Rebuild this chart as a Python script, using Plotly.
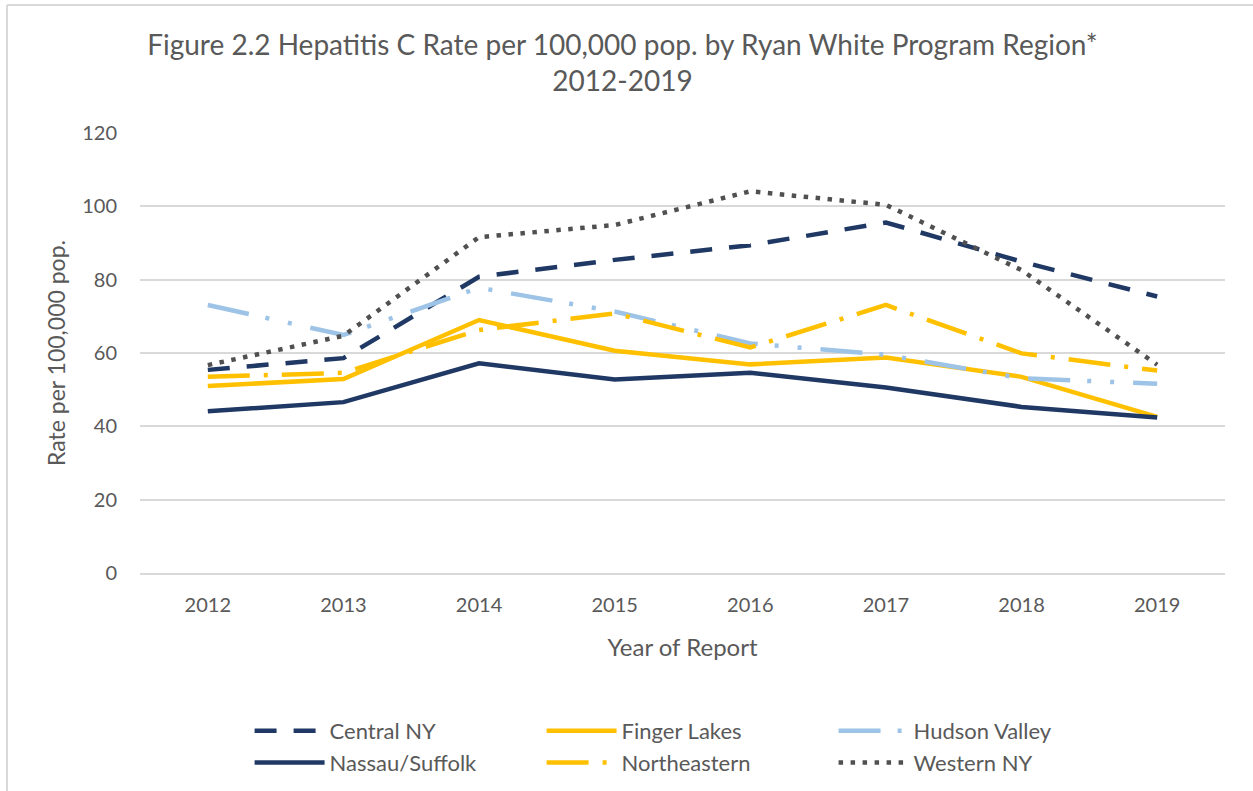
import plotly.graph_objects as go

years = ["2012", "2013", "2014", "2015", "2016", "2017", "2018", "2019"]

central_ny = [55.4, 58.6, 80.8, 85.4, 89.4, 95.6, 84.9, 75.4]
finger_lakes = [51.0, 52.9, 69.0, 60.6, 56.9, 58.8, 53.5, 42.6]
hudson_valley = [73.1, 64.9, 77.8, 71.3, 62.6, 59.5, 53.1, 51.6]
nassau_suffolk = [44.1, 46.6, 57.2, 52.8, 54.6, 50.6, 45.3, 42.4]
northeastern = [53.5, 54.6, 66.3, 70.8, 61.5, 73.1, 59.9, 55.2]
western_ny = [56.7, 64.7, 91.6, 94.9, 104.1, 100.4, 82.6, 56.8]

series_names = ["Central NY", "Finger Lakes", "Hudson Valley",
                "Nassau/Suffolk", "Northeastern", "Western NY"]
series_values = [central_ny, finger_lakes, hudson_valley,
                 nassau_suffolk, northeastern, western_ny]

NAVY = "#1F3864"
YELLOW = "#FFC000"
LIGHTBLUE = "#9DC3E6"
GRAY = "#505050"

styles = [
    dict(color=NAVY, dash="22px,17px", width=4.5),
    dict(color=YELLOW, dash="solid", width=4.5),
    dict(color=LIGHTBLUE, dash="42px,17px,4px,19px,4px,19px", width=4.5),
    dict(color=NAVY, dash="solid", width=4.5),
    dict(color=YELLOW, dash="42px,14px,4px,14px", width=4.5),
    dict(color=GRAY, dash="4.5px,7.5px", width=4.5),
]

fig = go.Figure()
for name, vals, st in zip(series_names, series_values, styles):
    fig.add_trace(go.Scatter(x=years, y=vals, name=name, mode="lines",
                             line=st))

FONT = "Lato"
TXT = "#595959"

fig.update_layout(
    width=1253, height=791,
    paper_bgcolor="white", plot_bgcolor="white",
    margin=dict(l=140, r=28, t=133, b=218, autoexpand=False),
    font=dict(family=FONT, color=TXT, size=20),
    title=dict(
        text="Figure 2.2 Hepatitis C Rate per 100,000 pop. by Ryan White Program Region*<br>2012-2019",
        x=0.4968, xanchor="center", y=0.931, yanchor="top",
        font=dict(family=FONT, size=28, color=TXT),
    ),
    xaxis=dict(
        type="category", range=[-0.5, 7.5], automargin=False,
        showgrid=False, showline=True, linecolor="#D9D9D9", linewidth=1.5,
        ticks="", ticklabelstandoff=13, tickfont=dict(size=20, color=TXT),
        title=dict(text="Year of Report", font=dict(size=24, color=TXT), standoff=24),
    ),
    yaxis=dict(
        range=[0, 120], dtick=20, showgrid=True, gridcolor="#D9D9D9", gridwidth=1.5,
        automargin=False,
        zeroline=False, showline=False, ticks="", ticklabelstandoff=22,
        tickfont=dict(size=20, color=TXT),
        title=dict(text="Rate per 100,000 pop.", font=dict(size=23, color=TXT), standoff=10),
    ),
    legend=dict(
        orientation="h", x=0.101, xanchor="left", y=-0.3114, yanchor="top",
        entrywidth=207, entrywidthmode="pixels",
        font=dict(size=22, color=TXT), tracegroupgap=0, itemwidth=70,
        bgcolor="rgba(0,0,0,0)",
    ),
    showlegend=True,
)

# chart-area border (top and left edges)
fig.add_shape(type="line", xref="paper", yref="paper",
              x0=(7 - 140) / 1085, x1=(7 - 140) / 1085,
              y0=(573 - 5) / 440, y1=(573 - 800) / 440,
              line=dict(color="#D9D9D9", width=2))
fig.add_shape(type="line", xref="paper", yref="paper",
              x0=(7 - 140) / 1085, x1=(1260 - 140) / 1085,
              y0=(573 - 5) / 440, y1=(573 - 5) / 440,
              line=dict(color="#D9D9D9", width=2))

fig.write_html("out.html", config={"displayModeBar": False},
               post_script="document.body.style.margin='0';")
